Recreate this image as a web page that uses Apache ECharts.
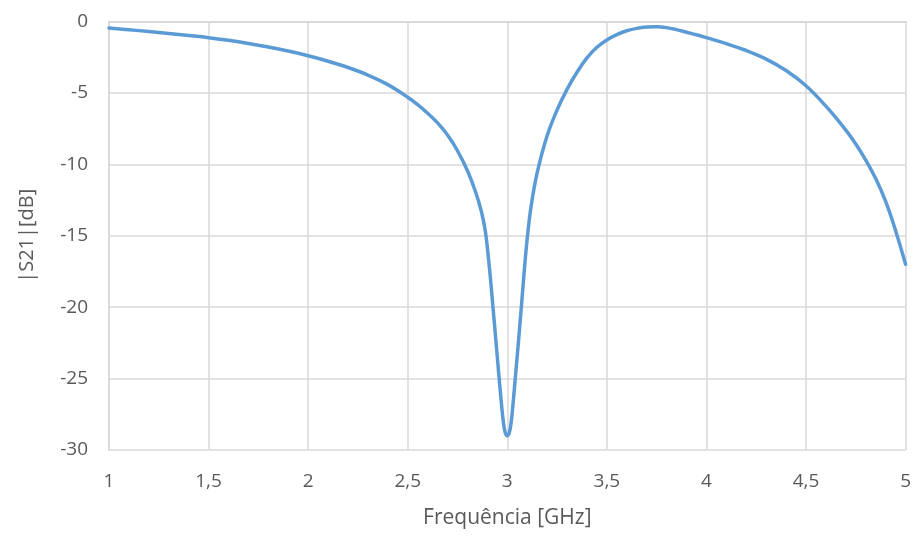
<!DOCTYPE html>
<html>
<head>
<meta charset="utf-8">
<script src="https://cdn.jsdelivr.net/npm/echarts@6/dist/echarts.min.js"></script>
<style>html,body{margin:0;padding:0;background:#fff}#c{width:914px;height:536px}</style>
</head>
<body>
<div id="c"></div>
<script>
var freq = [1.0,1.1,1.2,1.3,1.4,1.5,1.6,1.7,1.8,1.9,2.0,2.1,2.2,2.3,2.4,2.5,2.55,2.6,2.65,2.7,2.75,2.8,2.84,2.87,2.89,2.91,2.93,2.95,2.965,2.98,2.99,3.0,3.01,3.02,3.03,3.04,3.055,3.07,3.085,3.1,3.12,3.15,3.2,3.25,3.3,3.35,3.4,3.45,3.5,3.55,3.6,3.65,3.7,3.75,3.8,3.85,3.9,3.95,4.0,4.1,4.2,4.3,4.4,4.5,4.6,4.7,4.75,4.8,4.85,4.9,4.95,5.0];
var s21 = [-0.45,-0.58,-0.7,-0.84,-0.98,-1.13,-1.32,-1.54,-1.79,-2.07,-2.4,-2.78,-3.22,-3.75,-4.42,-5.3,-5.82,-6.42,-7.1,-7.95,-9.05,-10.45,-11.9,-13.3,-14.7,-17.2,-20.3,-23.5,-25.9,-28.0,-28.8,-29.0,-28.8,-28.0,-26.6,-25.0,-22.6,-20.1,-17.5,-15.2,-12.9,-10.6,-8.0,-6.2,-4.75,-3.55,-2.55,-1.8,-1.29,-0.92,-0.65,-0.48,-0.39,-0.37,-0.43,-0.57,-0.75,-0.93,-1.13,-1.55,-2.03,-2.63,-3.43,-4.5,-5.93,-7.6,-8.57,-9.7,-11.0,-12.6,-14.65,-17.0];
var xName = 'Frequência [GHz]';
var yName = '|S21|[dB]';

var data = freq.map(function(f,i){return [f, s21[i]];});
var chart = echarts.init(document.getElementById('c'), null, {renderer:'canvas'});
var font = '"Open Sans", sans-serif';
chart.setOption({
  animation:false,
  grid:{left:109,right:6,top:21.5,bottom:86},
  xAxis:{
    type:'value',min:1,max:5,interval:0.5,
    name:xName,nameLocation:'middle',nameGap:58,
    nameTextStyle:{color:'#595959',fontSize:21,fontFamily:font},
    axisLine:{show:true,lineStyle:{color:'#d9d9d9',width:2}},
    axisTick:{show:false},
    splitLine:{show:true,lineStyle:{color:'#d9d9d9',width:1.5}},
    axisLabel:{color:'#595959',fontSize:19,fontFamily:font,margin:22,
      formatter:function(v){return String(v).replace('.',',');}}
  },
  yAxis:{
    type:'value',min:-30,max:0,interval:5,
    name:yName,nameLocation:'middle',nameGap:72,
    nameTextStyle:{color:'#595959',fontSize:20,fontFamily:font},
    axisLine:{show:true,onZero:false,lineStyle:{color:'#d9d9d9',width:2}},
    axisTick:{show:false},
    splitLine:{show:true,lineStyle:{color:'#d9d9d9',width:1.5}},
    axisLabel:{color:'#595959',fontSize:19,fontFamily:font,margin:21}
  },
  series:[{
    type:'line',data:data,smooth:0.4,showSymbol:false,
    lineStyle:{color:'#5B9BD5',width:3.5,cap:'round',join:'round'}
  }]
});
</script>
</body>
</html>
